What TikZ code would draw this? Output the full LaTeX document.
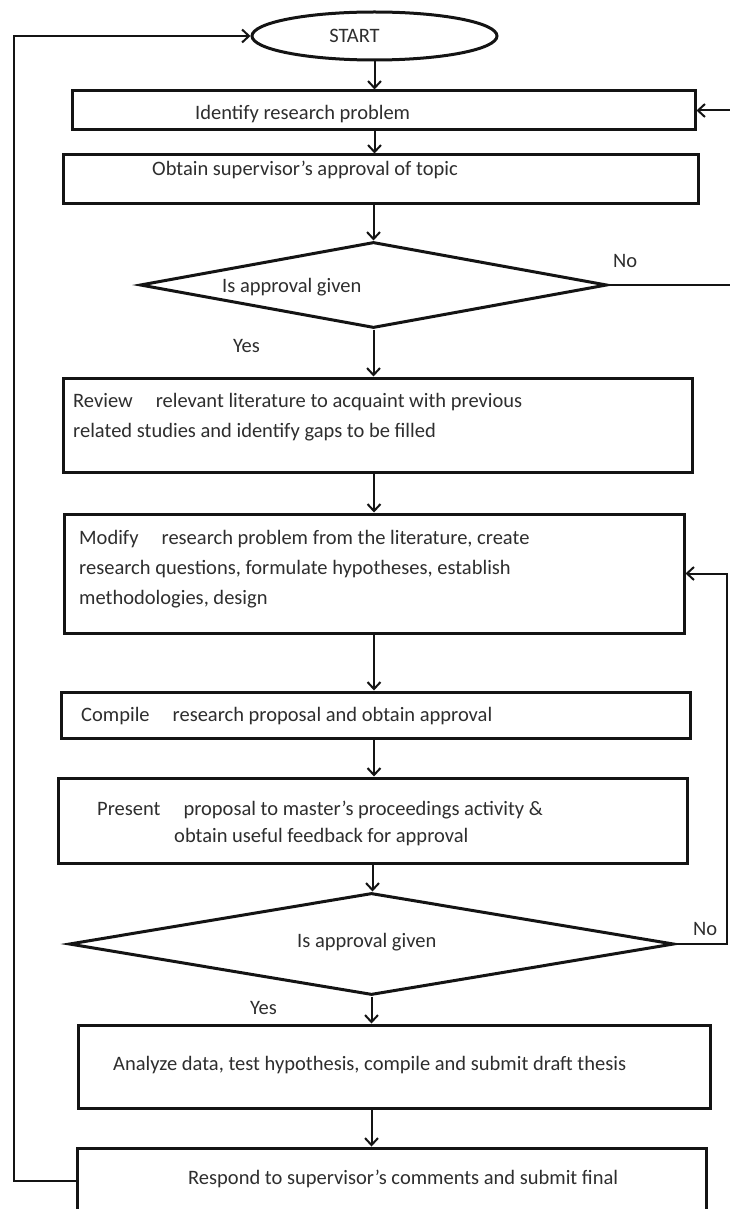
\documentclass[tikz,border=0pt]{standalone}
\usepackage{fontspec}
\setmainfont{Carlito}
\usepackage{tikz}
\usetikzlibrary{arrows.meta,shapes.geometric}
\definecolor{ink}{HTML}{141414}
\definecolor{txt}{HTML}{2E2E2E}
\newcommand{\gap}{\hspace{23pt}}

\begin{document}
\begin{tikzpicture}[x=1pt,y=-1pt,font=\fontsize{20.5}{30}\selectfont,
    box/.style={draw=ink,line width=3pt,inner sep=0pt},
    dec/.style={draw=ink,line width=3pt,diamond,inner sep=0pt},
    flow/.style={draw=ink,line width=2pt,-{Straight Barb[length=7pt,width=13pt]}},
    lbl/.style={text=txt,inner sep=0pt,anchor=base west,align=left}]
        \useasboundingbox[fill=white] (0,0) rectangle (730,1209);
        \node[box,ellipse,minimum width=245pt,minimum height=48pt,text=txt] (start) at (374.5,36) {START\kern40pt};
        \node[box,minimum width=623pt,minimum height=39pt] (ident) at (383.5,110.5) {};
        \node[box,minimum width=635pt,minimum height=48pt] (topic) at (380.5,179) {};
        \node[dec,minimum width=467pt,minimum height=86pt] (appr1) at (373.5,285) {};
        \node[box,minimum width=629pt,minimum height=94pt] (review) at (377.5,425) {};
        \node[box,minimum width=620pt,minimum height=119pt] (modify) at (374,573.5) {};
        \node[box,minimum width=629pt,minimum height=46pt] (compile) at (375.5,715) {};
        \node[box,minimum width=629pt,minimum height=85pt] (present) at (372.5,820.5) {};
        \node[dec,minimum width=605pt,minimum height=102pt] (appr2) at (371.5,944) {};
        \node[box,minimum width=632pt,minimum height=83pt] (analyze) at (394,1066.5) {};
        \node[box,minimum width=629pt,minimum height=66pt] (respond) at (391.5,1181) {};
        \coordinate (edgeA) at (740,0);
        \coordinate (edgeB) at (727,0);
        \coordinate (edgeL) at (14,0);
        \node[lbl] (ident-t) at (195,119.5) {Identify research problem};
        \node[lbl] (topic-t) at (152,175.5) {Obtain supervisor’s approval of topic};
        \node[lbl] (appr1-t) at (222,292.5) {Is approval given};
        \node[lbl] (no1) at (613,267.5) {No};
        \node[lbl] (yes1) at (233,352.5) {Yes};
        \node[lbl] (review-t) at (73,437.5) {Review\gap relevant literature to acquaint with previous\\related studies and identify gaps to be filled};
        \node[lbl] (modify-t) at (79,604.5) {Modify\gap research problem from the literature, create\\research questions, formulate hypotheses, establish\\methodologies, design};
        \node[lbl] (compile-t) at (81,721.5) {Compile\gap research proposal and obtain approval};
        \node[lbl,font=\fontsize{20.5}{27}\selectfont] (present-t) at (97,842.5) {Present\gap proposal to master’s proceedings activity \&\\\hspace*{77pt}obtain useful feedback for approval};
        \node[lbl] (appr2-t) at (297,947.5) {Is approval given};
        \node[lbl] (no2) at (693,935.5) {No};
        \node[lbl] (yes2) at (250,1014.5) {Yes};
        \node[lbl] (analyze-t) at (113,1070.5) {Analyze data, test hypothesis, compile and submit draft thesis};
        \node[lbl] (respond-t) at (188,1184.5) {Respond to supervisor’s comments and submit final};
        \draw[flow] (start.south) -- (start.south |- ident.north);
        \draw[flow] (start.south |- ident.south) -- (start.south |- topic.north);
        \draw[flow] (appr1.north |- topic.south) -- (appr1.north);
        \draw[flow] (appr1.south) -- (appr1.south |- review.north);
        \draw[flow] (modify.north |- review.south) -- (modify.north);
        \draw[flow] (modify.south) -- (modify.south |- compile.north);
        \draw[flow] (modify.south |- compile.south) -- (modify.south |- present.north);
        \draw[flow] (present.south) -- (present.south |- appr2.north);
        \draw[flow] (appr2.south) -- (appr2.south |- analyze.north);
        \draw[flow] (appr2.south |- analyze.south) -- (appr2.south |- respond.north);
        \draw[flow] (appr1.east) -- (appr1.east -| edgeA) |- (ident.east);
        \draw[flow] (appr2.east) -- (appr2.east -| edgeB) |- (modify.east);
        \draw[flow] (respond.west) -- (respond.west -| edgeL) |- (start.west);
      \end{tikzpicture}
\end{document}
